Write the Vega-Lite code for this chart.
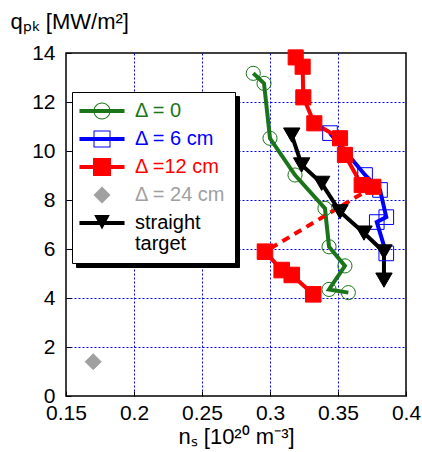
{
  "$schema": "https://vega.github.io/schema/vega-lite/v6.json",
  "width": 340,
  "height": 343,
  "autosize": {"type": "none"},
  "padding": {"left": 66, "top": 53, "right": 16, "bottom": 56},
  "config": {
    "view": {"stroke": "black", "strokeWidth": 1.5},
    "font": "Liberation Sans",
    "axis": {
      "labelFont": "Liberation Sans", "labelFontSize": 21, "labelColor": "black", "labelFlush": false,
      "titleFont": "Liberation Sans", "titleFontSize": 22, "titleFontWeight": "normal", "titleColor": "black",
      "domain": false, "tickColor": "black", "tickSize": -5, "tickWidth": 1,
      "gridColor": "#0000ff", "gridDash": [2, 2], "gridWidth": 1
    }
  },
  "datasets": {
    "pts": [
      {"s": "Δ = 0", "seg": "g", "o": 1, "x": 0.2877, "y": 13.17},
      {"s": "Δ = 0", "seg": "g", "o": 2, "x": 0.2956, "y": 12.76},
      {"s": "Δ = 0", "seg": "g", "o": 3, "x": 0.3000, "y": 10.52},
      {"s": "Δ = 0", "seg": "g", "o": 4, "x": 0.3184, "y": 9.02},
      {"s": "Δ = 0", "seg": "g", "o": 5, "x": 0.3404, "y": 7.66},
      {"s": "Δ = 0", "seg": "g", "o": 6, "x": 0.3434, "y": 6.09},
      {"s": "Δ = 0", "seg": "g", "o": 7, "x": 0.3551, "y": 5.31},
      {"s": "Δ = 0", "seg": "g", "o": 8, "x": 0.3434, "y": 4.35},
      {"s": "Δ = 0", "seg": "g", "o": 9, "x": 0.3576, "y": 4.22},
      {"s": "Δ = 6 cm", "seg": "b", "o": 1, "x": 0.3441, "y": 10.73},
      {"s": "Δ = 6 cm", "seg": "b", "o": 2, "x": 0.3699, "y": 9.02},
      {"s": "Δ = 6 cm", "seg": "b", "o": 3, "x": 0.3809, "y": 8.41},
      {"s": "Δ = 6 cm", "seg": "b", "o": 4, "x": 0.3855, "y": 7.3},
      {"s": "Δ = 6 cm", "seg": "b", "o": 5, "x": 0.3785, "y": 7.1},
      {"s": "Δ = 6 cm", "seg": "b", "o": 6, "x": 0.3855, "y": 5.82},
      {"s": "Δ =12 cm", "seg": "r1", "o": 1, "x": 0.3189, "y": 13.82},
      {"s": "Δ =12 cm", "seg": "r1", "o": 2, "x": 0.3240, "y": 13.44},
      {"s": "Δ =12 cm", "seg": "r1", "o": 3, "x": 0.3245, "y": 12.19},
      {"s": "Δ =12 cm", "seg": "r1", "o": 4, "x": 0.3326, "y": 11.13},
      {"s": "Δ =12 cm", "seg": "r1", "o": 5, "x": 0.3515, "y": 10.52},
      {"s": "Δ =12 cm", "seg": "r1", "o": 6, "x": 0.3551, "y": 9.84},
      {"s": "Δ =12 cm", "seg": "r1", "o": 7, "x": 0.3674, "y": 8.61},
      {"s": "Δ =12 cm", "seg": "r1", "o": 8, "x": 0.3760, "y": 8.54},
      {"s": "Δ =12 cm", "seg": "r2", "o": 9, "x": 0.2963, "y": 5.89},
      {"s": "Δ =12 cm", "seg": "r2", "o": 10, "x": 0.3086, "y": 5.14},
      {"s": "Δ =12 cm", "seg": "r2", "o": 11, "x": 0.3160, "y": 4.94},
      {"s": "Δ =12 cm", "seg": "r2", "o": 12, "x": 0.3318, "y": 4.15},
      {"s": "Δ = 24 cm", "seg": "gr", "o": 1, "x": 0.1700, "y": 1.40},
      {"s": "straight target", "seg": "k", "o": 1, "x": 0.3160, "y": 10.65},
      {"s": "straight target", "seg": "k", "o": 2, "x": 0.3233, "y": 9.43},
      {"s": "straight target", "seg": "k", "o": 3, "x": 0.3380, "y": 8.68},
      {"s": "straight target", "seg": "k", "o": 4, "x": 0.3515, "y": 7.52},
      {"s": "straight target", "seg": "k", "o": 5, "x": 0.3691, "y": 6.65},
      {"s": "straight target", "seg": "k", "o": 6, "x": 0.3838, "y": 5.88},
      {"s": "straight target", "seg": "k", "o": 7, "x": 0.3838, "y": 4.73}
    ],
    "dash": [
      {"s": "Δ =12 cm", "o": 1, "x": 0.3760, "y": 8.54},
      {"s": "Δ =12 cm", "o": 2, "x": 0.2963, "y": 5.89}
    ]
  },
  "data": {"name": "pts"},
  "encoding": {
    "x": {
      "field": "x", "type": "quantitative",
      "scale": {"domain": [0.15, 0.4], "nice": false, "zero": false},
      "axis": {
        "values": [0.15, 0.2, 0.25, 0.3, 0.35, 0.4], "format": ".2~f",
        "title": "nₛ [10²⁰ m⁻³]", "titleY": 47, "titleBaseline": "alphabetic",
        "labelPadding": 11,
        "gridOpacity": {"condition": {"test": "datum.value < 0.151 || datum.value > 0.399", "value": 0}, "value": 1}
      }
    },
    "y": {
      "field": "y", "type": "quantitative",
      "scale": {"domain": [0, 14], "nice": false},
      "axis": {
        "values": [0, 2, 4, 6, 8, 10, 12, 14],
        "title": "qₚₖ [MW/m²]", "titleAngle": 0, "titleAlign": "left", "titleBaseline": "alphabetic",
        "titleX": -56, "titleY": -25, "labelPadding": 16,
        "gridOpacity": {"condition": {"test": "datum.value < 0.01 || datum.value > 13.99", "value": 0}, "value": 1}
      }
    }
  },
  "layer": [
    {
      "encoding": {
        "color": {
          "field": "s", "type": "nominal",
          "scale": {"domain": ["Δ = 0", "Δ = 6 cm", "Δ =12 cm", "Δ = 24 cm", "straight target"], "range": ["#1a751a", "#0000ff", "#ff0000", "#a0a0a0", "#000000"]},
          "legend": {
            "orient": "none", "legendX": 6, "legendY": 39, "title": null, "zindex": 2,
            "fillColor": "white", "strokeColor": "black", "padding": 9,
            "symbolOffset": 11, "labelOffset": 23, "rowPadding": 8,
            "symbolSize": 289, "labelFont": "Liberation Sans", "labelFontSize": 20,
            "labelExpr": "datum.label == 'straight target' ? ['straight', 'target'] : datum.label",
            "encode": {
              "symbols": {"update": {
                "shape": {"signal": "datum.value === 'Δ = 0' ? 'M-2.65,-0.24H2.65V0.24H-2.65Z M0,-1A1,1 0 1,1 0,1A1,1 0 1,1 0,-1Z M0,-0.88A0.88,0.88 0 1,0 0,0.88A0.88,0.88 0 1,0 0,-0.88Z' : datum.value === 'Δ = 6 cm' ? 'M-2.65,-0.24H2.65V0.24H-2.65Z M-1,-1H1V1H-1Z M-0.88,-0.88V0.88H0.88V-0.88Z' : datum.value === 'Δ =12 cm' ? 'M-2.65,-0.24H2.65V0.24H-2.65Z M-1.06,-1.06H1.06V1.06H-1.06Z' : datum.value === 'Δ = 24 cm' ? 'M0,-1L1,0L0,1L-1,0Z' : 'M-2.65,-0.24H2.65V0.24H-2.65Z M-0.92,-0.95H0.92L0,0.75Z'"},
                "fill": {"signal": "datum.value === 'Δ = 0' ? '#1a751a' : datum.value === 'Δ = 6 cm' ? '#0000ff' : datum.value === 'Δ =12 cm' ? '#ff0000' : datum.value === 'Δ = 24 cm' ? '#a0a0a0' : '#000000'"},
                "fillOpacity": {"value": 1},
                "stroke": {"value": "transparent"},
                "strokeWidth": {"value": 0},
                "opacity": {"value": 1}
              }},
              "labels": {"update": {
                "fill": {"signal": "datum.value === 'Δ = 0' ? '#1a751a' : datum.value === 'Δ = 6 cm' ? '#0000ff' : datum.value === 'Δ =12 cm' ? '#ff0000' : datum.value === 'Δ = 24 cm' ? '#a0a0a0' : '#000000'"},
                "lineHeight": {"value": 21}
              }}
            }
          }
        },
        "opacity": {
          "field": "s2", "type": "nominal",
          "scale": {"domain": ["Δ = 0 ", "Δ = 6 cm ", "Δ =12 cm ", "Δ = 24 cm ", "straight target "], "range": [1, 1, 1, 1, 1]},
          "legend": {
            "orient": "none", "legendX": 10, "legendY": 43, "title": null, "zindex": 1,
            "fillColor": "black", "strokeColor": "black", "padding": 9,
            "symbolOffset": 11, "labelOffset": 115, "rowPadding": 22,
            "symbolSize": 289, "labelFont": "Liberation Sans", "labelFontSize": 1,
            "symbolOpacity": 0,
            "labelExpr": "''"
          }
        }
      },
      "layer": [
        {"transform": [{"filter": "datum.seg == 'g'"}, {"calculate": "datum.s + ' '", "as": "s2"}], "mark": {"type": "line", "strokeWidth": 4}, "encoding": {"order": {"field": "o", "type": "quantitative"}}},
        {"transform": [{"filter": "datum.seg == 'b'"}, {"calculate": "datum.s + ' '", "as": "s2"}], "mark": {"type": "line", "strokeWidth": 4}, "encoding": {"order": {"field": "o", "type": "quantitative"}}},
        {"transform": [{"filter": "datum.seg == 'r1' || datum.seg == 'r2'"}, {"calculate": "datum.s + ' '", "as": "s2"}], "mark": {"type": "line", "strokeWidth": 4}, "encoding": {"detail": {"field": "seg"}, "order": {"field": "o", "type": "quantitative"}}},
        {"data": {"name": "dash"}, "transform": [{"calculate": "datum.s + ' '", "as": "s2"}], "mark": {"type": "line", "strokeWidth": 4, "strokeDash": [8, 6]}, "encoding": {"order": {"field": "o", "type": "quantitative"}}},
        {"transform": [{"filter": "datum.seg == 'k'"}, {"calculate": "datum.s + ' '", "as": "s2"}], "mark": {"type": "line", "strokeWidth": 4}, "encoding": {"order": {"field": "o", "type": "quantitative"}}}
      ]
    },
    {
      "mark": {"type": "point", "opacity": 1, "strokeWidth": 1},
      "encoding": {
        "shape": {"field": "seg", "type": "nominal", "scale": {"domain": ["g", "b", "r1", "r2", "gr", "k"], "range": ["circle", "square", "square", "square", "diamond", "triangle-down"]}, "legend": null},
        "size": {"field": "seg", "type": "nominal", "scale": {"domain": ["g", "b", "r1", "r2", "gr", "k"], "range": [200, 270, 324, 324, 200, 240]}, "legend": null},
        "fill": {"field": "seg", "type": "nominal", "scale": {"domain": ["g", "b", "r1", "r2", "gr", "k"], "range": ["transparent", "transparent", "#ff0000", "#ff0000", "#a0a0a0", "#000000"]}, "legend": null},
        "stroke": {"field": "seg", "type": "nominal", "scale": {"domain": ["g", "b", "r1", "r2", "gr", "k"], "range": ["#1a751a", "#0000ff", "#ff0000", "#ff0000", "#a0a0a0", "#000000"]}, "legend": null}
      }
    }
  ]
}
